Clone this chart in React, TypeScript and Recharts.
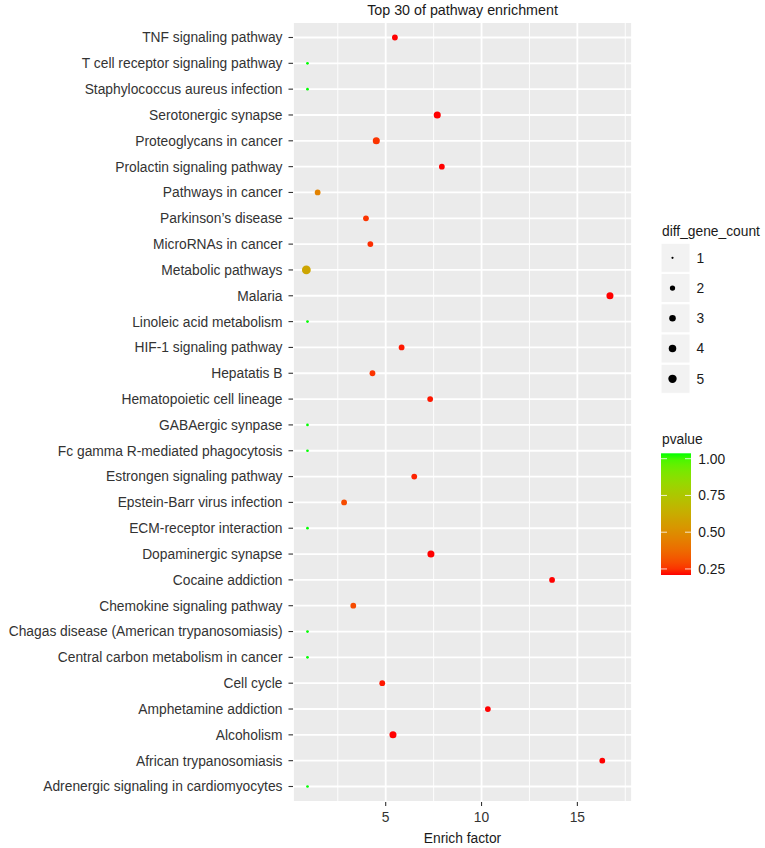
import React from 'react';
import { ScatterChart, Scatter, XAxis, YAxis, CartesianGrid, ReferenceLine } from 'recharts';

// ---------- data (top row first) ----------
const pathways = [
  'TNF signaling pathway',
  'T cell receptor signaling pathway',
  'Staphylococcus aureus infection',
  'Serotonergic synapse',
  'Proteoglycans in cancer',
  'Prolactin signaling pathway',
  'Pathways in cancer',
  'Parkinson\u2019s disease',
  'MicroRNAs in cancer',
  'Metabolic pathways',
  'Malaria',
  'Linoleic acid metabolism',
  'HIF-1 signaling pathway',
  'Hepatatis B',
  'Hematopoietic cell lineage',
  'GABAergic synpase',
  'Fc gamma R-mediated phagocytosis',
  'Estrongen signaling pathway',
  'Epstein-Barr virus infection',
  'ECM-receptor interaction',
  'Dopaminergic synapse',
  'Cocaine addiction',
  'Chemokine signaling pathway',
  'Chagas disease (American trypanosomiasis)',
  'Central carbon metabolism in cancer',
  'Cell cycle',
  'Amphetamine addiction',
  'Alcoholism',
  'African trypanosomiasis',
  'Adrenergic signaling in cardiomyocytes',
];

const enrichFactor = [
  5.48, 0.92, 0.92, 7.69, 4.51, 7.93, 1.45, 3.97, 4.2, 0.86,
  16.7, 0.92, 5.83, 4.31, 7.32, 0.92, 0.92, 6.49, 2.83, 0.92,
  7.36, 13.68, 3.31, 0.92, 0.92, 4.82, 10.33, 5.38, 16.3, 0.92,
];

const diffGeneCount = [
  2, 1, 1, 3, 3, 2, 2, 2, 2, 5,
  3, 1, 2, 2, 2, 1, 1, 2, 2, 1,
  3, 2, 2, 1, 1, 2, 2, 3, 2, 1,
];

const pvalue = [
  0.23, 1.0, 1.0, 0.23, 0.27, 0.23, 0.46, 0.27, 0.26, 0.59,
  0.23, 1.0, 0.24, 0.27, 0.24, 1.0, 1.0, 0.25, 0.31, 1.0,
  0.23, 0.23, 0.31, 1.0, 1.0, 0.24, 0.23, 0.23, 0.23, 1.0,
];

const xTicks = [5, 10, 15];
const xMinorTicks = [2.5, 7.5, 12.5, 17.5];
const sizeBreaks = [1, 2, 3, 4, 5];
const pBreaks = [1.0, 0.75, 0.5, 0.25];
const pLabels = ['1.00', '0.75', '0.50', '0.25'];

const TITLE = 'Top 30 of pathway enrichment';
const X_TITLE = 'Enrich factor';
const SIZE_TITLE = 'diff_gene_count';
const COLOR_TITLE = 'pvalue';

// ---------- scales ----------
const P_MIN = 0.23;
const P_MAX = 1.0;
const C_MIN = 1;
const C_MAX = 5;

function lin(c: number) {
  c /= 255;
  return c <= 0.04045 ? c / 12.92 : Math.pow((c + 0.055) / 1.055, 2.4);
}
function gam(c: number) {
  const v = c <= 0.0031308 ? 12.92 * c : 1.055 * Math.pow(c, 1 / 2.4) - 0.055;
  return Math.max(0, Math.min(255, Math.round(v * 255)));
}
const Xn = 0.95047, Yn = 1.0, Zn = 1.08883;
function rgbToLab(rgb: number[]) {
  const r = lin(rgb[0]), g = lin(rgb[1]), b = lin(rgb[2]);
  const X = 0.4124 * r + 0.3576 * g + 0.1805 * b;
  const Y = 0.2126 * r + 0.7152 * g + 0.0722 * b;
  const Z = 0.0193 * r + 0.1192 * g + 0.9505 * b;
  const f = (t: number) => (t > 0.008856 ? Math.cbrt(t) : 7.787 * t + 16 / 116);
  const fx = f(X / Xn), fy = f(Y / Yn), fz = f(Z / Zn);
  return [116 * fy - 16, 500 * (fx - fy), 200 * (fy - fz)];
}
function labToHex(L: number, a: number, bb: number) {
  const fy = (L + 16) / 116;
  const fx = fy + a / 500;
  const fz = fy - bb / 200;
  const inv = (t: number) => (t * t * t > 0.008856 ? t * t * t : (t - 16 / 116) / 7.787);
  const X = Xn * inv(fx), Y = Yn * inv(fy), Z = Zn * inv(fz);
  const r = 3.2406 * X - 1.5372 * Y - 0.4986 * Z;
  const g = -0.9689 * X + 1.8758 * Y + 0.0415 * Z;
  const b = 0.0557 * X - 0.204 * Y + 1.057 * Z;
  const h = (v: number) => gam(Math.max(0, Math.min(1, v))).toString(16).padStart(2, '0');
  return '#' + h(r) + h(g) + h(b);
}
const LAB_LOW = rgbToLab([255, 0, 0]);
const LAB_HIGH = rgbToLab([0, 255, 0]);
function colorAtT(t: number) {
  const tt = Math.max(0, Math.min(1, t));
  return labToHex(
    LAB_LOW[0] + (LAB_HIGH[0] - LAB_LOW[0]) * tt,
    LAB_LOW[1] + (LAB_HIGH[1] - LAB_LOW[1]) * tt,
    LAB_LOW[2] + (LAB_HIGH[2] - LAB_LOW[2]) * tt
  );
}
function pColor(p: number) {
  return colorAtT((p - P_MIN) / (P_MAX - P_MIN));
}
function baseRadius(c: number) {
  const size = 1 + 5 * Math.sqrt((c - C_MIN) / (C_MAX - C_MIN));
  return (0.43 * (size * 2.845 + 0.94)) / 2;
}
const plotRadius = (c: number) => baseRadius(c) + 0.55;
const legendRadius = (c: number) => baseRadius(c) + 0.3;

const N = pathways.length;
const rows = pathways.map((name, i) => ({
  name,
  x: enrichFactor[i],
  y: N - i,
  count: diffGeneCount[i],
  p: pvalue[i],
}));
const yTicks = pathways.map((_, i) => N - i);

const FONT = '"Liberation Sans", Arial, Helvetica, sans-serif';
const AXIS_TEXT = '#333333';

const Dot = (props: any) => {
  const { cx, cy, payload } = props;
  if (cx == null || cy == null) return null;
  return <circle cx={cx} cy={cy} r={plotRadius(payload.count)} fill={pColor(payload.p)} />;
};

// legend geometry
const LEG_X = 661;
const KEY = 29;
const KEY_STEP = 30.25;
const KEY_C0 = 257.8;
const BAR_TOP = 453.3;
const BAR_BOTTOM = 575;
const BAR_W = 30;
const P_Y1 = 458.7; // y of p = 1.00
const P_PX = 147; // px per unit p

export default function App() {
  const gradStops = Array.from({ length: 21 }, (_, i) => i / 20);
  return (
    <div
      style={{
        position: 'absolute',
        left: 0,
        top: 0,
        width: 765,
        height: 848,
        background: '#ffffff',
        fontFamily: FONT,
      }}
    >
      <ScatterChart width={765} height={848} margin={{ top: 22, right: 133, bottom: 0, left: 0 }}>
        <CartesianGrid fill="#EBEBEB" stroke="#ffffff" strokeWidth={1.8} />
        {xMinorTicks.map((v) => (
          <ReferenceLine key={v} x={v} stroke="#ffffff" strokeWidth={0.9} />
        ))}
        <XAxis
          type="number"
          dataKey="x"
          domain={[0.164, 17.85]}
          ticks={xTicks}
          allowDataOverflow
          height={46}
          axisLine={false}
          tickSize={4}
          tickMargin={6}
          tickLine={{ stroke: '#333333', strokeWidth: 1.1 }}
          tick={{ fontSize: 13.8, fill: AXIS_TEXT, fontFamily: FONT }}
        />
        <YAxis
          type="number"
          dataKey="y"
          domain={[0.4, 30.6]}
          ticks={yTicks}
          interval={0}
          width={293}
          axisLine={false}
          tickSize={4.5}
          tickMargin={6}
          tickLine={{ stroke: '#333333', strokeWidth: 1.1 }}
          tick={{ fontSize: 13.8, fill: AXIS_TEXT, fontFamily: FONT }}
          tickFormatter={(v: number) => pathways[N - v]}
        />
        <Scatter data={rows} shape={Dot} isAnimationActive={false} />
      </ScatterChart>

      <svg
        width={765}
        height={848}
        style={{ position: 'absolute', left: 0, top: 0, pointerEvents: 'none', fontFamily: FONT }}
      >
        <text x={462.5} y={15} textAnchor="middle" fontSize={14.3} fill="#1a1a1a">
          {TITLE}
        </text>
        <text x={462.5} y={842.7} textAnchor="middle" fontSize={13.8} fill="#1a1a1a">
          {X_TITLE}
        </text>

        {/* size legend */}
        <text x={LEG_X + 1} y={236} fontSize={13.8} fill="#1a1a1a">
          {SIZE_TITLE}
        </text>
        {sizeBreaks.map((c, i) => {
          const cy = KEY_C0 + i * KEY_STEP;
          return (
            <g key={c}>
              <rect x={LEG_X} y={cy - KEY / 2} width={KEY} height={KEY} fill="#F2F2F2" stroke="#ffffff" strokeWidth={1} />
              <circle cx={LEG_X + 11.5} cy={cy} r={legendRadius(c)} fill="#000000" />
              <text x={696.5} y={cy + 4.9} fontSize={13.8} fill="#1a1a1a">
                {c}
              </text>
            </g>
          );
        })}

        {/* colour legend */}
        <text x={LEG_X + 1} y={443.6} fontSize={13.8} fill="#1a1a1a">
          {COLOR_TITLE}
        </text>
        <defs>
          <linearGradient id="pgrad" x1="0" y1="0" x2="0" y2="1">
            {gradStops.map((s) => (
              <stop key={s} offset={s} stopColor={colorAtT(1 - s)} />
            ))}
          </linearGradient>
        </defs>
        <rect x={LEG_X} y={BAR_TOP} width={BAR_W} height={BAR_BOTTOM - BAR_TOP} fill="url(#pgrad)" />
        {pBreaks.map((p, i) => {
          const y = P_Y1 + (1 - p) * P_PX;
          return (
            <g key={p}>
              <line x1={LEG_X} x2={LEG_X + 6} y1={y} y2={y} stroke="#ffffff" strokeWidth={0.8} />
              <line x1={LEG_X + BAR_W - 6} x2={LEG_X + BAR_W} y1={y} y2={y} stroke="#ffffff" strokeWidth={0.8} />
              <text x={698.3} y={y + 4.9} fontSize={13.8} fill="#1a1a1a">
                {pLabels[i]}
              </text>
            </g>
          );
        })}
      </svg>
    </div>
  );
}
